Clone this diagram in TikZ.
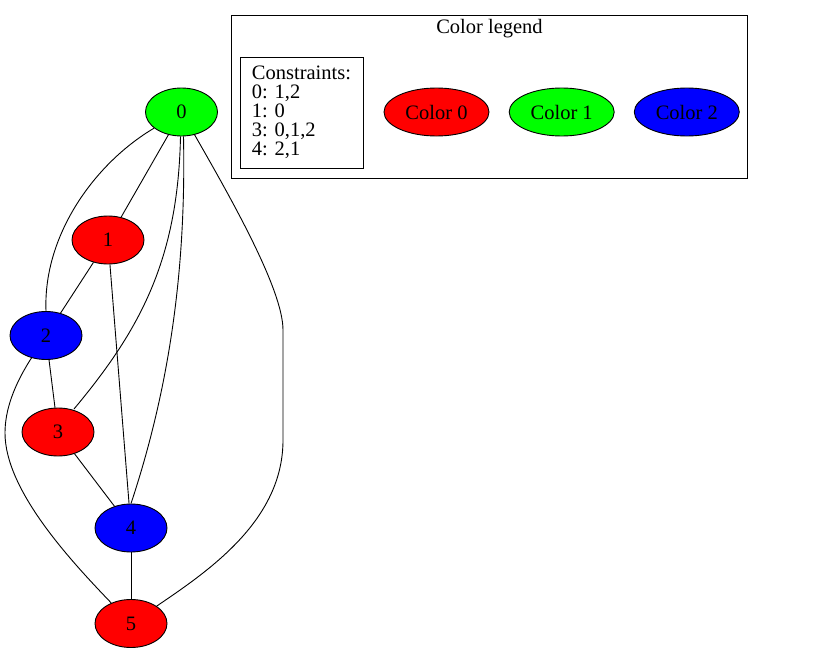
\documentclass[tikz,border=0pt]{standalone}
\usepackage{fontspec}
\setmainfont{Liberation Serif}
\usetikzlibrary{shapes.geometric}
\definecolor{gvgreen}{RGB}{0,255,0}
\definecolor{gvred}{RGB}{255,0,0}
\definecolor{gvblue}{RGB}{0,0,255}
\tikzset{
  gvfont/.style={font=\fontsize{20.5}{19}\selectfont},
  vert/.style={ellipse, draw=black, line width=0.9pt, minimum width=72pt, minimum height=48pt, inner sep=0pt, gvfont},
  legvert/.style={vert, minimum width=105pt},
  edge/.style={draw=black, line width=0.9pt},
}
\begin{document}
\begin{tikzpicture}[x=1pt,y=-1pt]
\useasboundingbox (0,0) rectangle (831,653);
% legend cluster
\node[draw=black, line width=0.9pt, minimum width=516.7pt, minimum height=162.3pt, inner sep=0pt] (cluster) at (489.35,96.85) {};
\node[gvfont, inner sep=0pt] (title) at (489.5,29) {Color legend};
\node[draw=black, line width=0.9pt, minimum width=123pt, minimum height=111pt, inner sep=0pt, align=left, gvfont] (cons) at (301.5,112.5) {Constraints:\\0: 1,2\\1: 0\\3: 0,1,2\\4: 2,1};
\node[legvert, fill=gvred] (c0) at (436.5,112) {Color 0};
\node[legvert, fill=gvgreen] (c1) at (561.7,112) {Color 1};
\node[legvert, fill=gvblue] (c2) at (686.8,112) {Color 2};
% graph nodes
\node[vert, fill=gvgreen] (n0) at (181.5,112) {0};
\node[vert, fill=gvred] (n1) at (108,240) {1};
\node[vert, fill=gvblue] (n2) at (46,335.5) {2};
\node[vert, fill=gvred] (n3) at (58,432) {3};
\node[vert, fill=gvblue] (n4) at (131,528) {4};
\node[vert, fill=gvred] (n5) at (131,623.5) {5};
% edges
\path[edge] (n0) -- (n1);
\path[edge] (n0) .. controls (95,163) and (43,235) .. (n2.north);
\path[edge] (n0.south) ++(-1,0) .. controls (178,260) and (140,330) .. (74,409);
\path[edge] (n0.south) ++(2,0) .. controls (186,260) and (172,380) .. (n4.north) ++(6,0);
\path[edge] (n0) .. controls (232,200) and (283,290) .. (283,330) -- (283,440) .. controls (283,520) and (210,570) .. (n5);
\path[edge] (n1) -- (n2);
\path[edge] (n1) -- (n4);
\path[edge] (n2) -- (n3);
\path[edge] (n2) .. controls (14,385) and (5,410) .. (5,433) .. controls (5,490) and (70,560) .. (n5);
\path[edge] (n3) -- (n4);
\path[edge] (n4) -- (n5);
\end{tikzpicture}
\end{document}
